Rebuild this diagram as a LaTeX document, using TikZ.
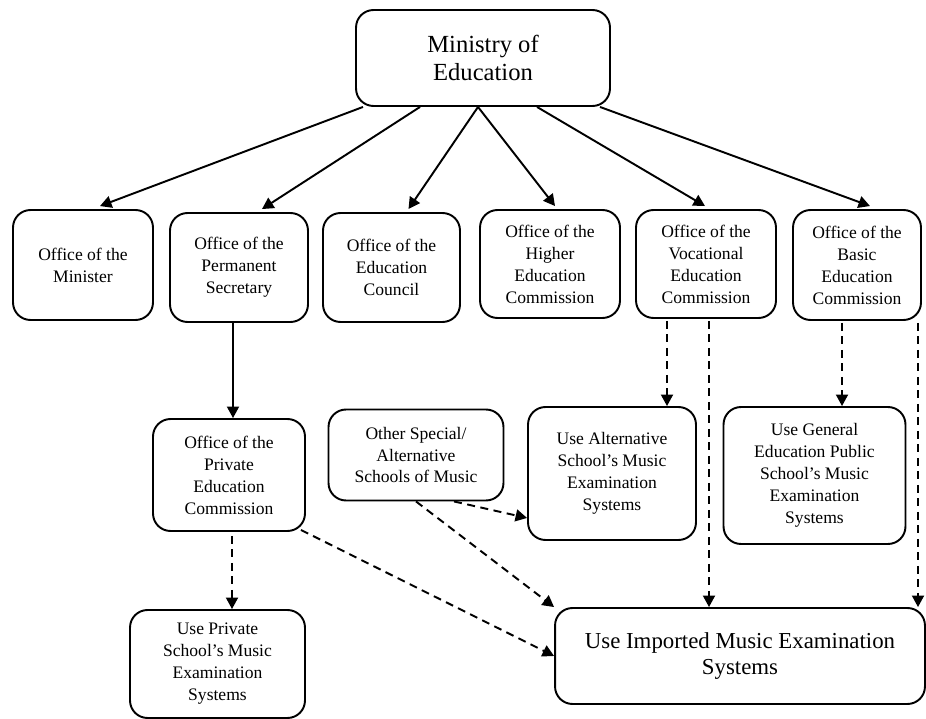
\documentclass[tikz,border=0pt]{standalone}
\usepackage{fontspec}
\setmainfont{Liberation Serif}
\usetikzlibrary{arrows.meta, positioning, calc}

\begin{document}
\begin{tikzpicture}[
            x=0.02cm, y=-0.02cm,
            box/.style={rectangle, draw=black, line width=1.1pt, fill=white, align=center, rounded corners=0.35cm, inner sep=2pt, font=\fontsize{10}{12.5}\selectfont},
            arrow/.style={-{Triangle[length=2.3mm, width=2.4mm]}, line width=1.1pt, draw=black},
            dasharrow/.style={arrow, dash pattern=on 1.6mm off 1.1mm}
        ]
        \useasboundingbox (0,0) rectangle (926,719);

        \node[box, minimum width=5.08cm, minimum height=1.92cm, font=\fontsize{14}{16}\selectfont] (ministry) at (483,58) {Ministry of\\Education};

        \node[box, minimum width=2.8cm, minimum height=2.2cm] (minister) at (83,265) {Office of the\\Minister};
        \node[box, minimum width=2.76cm, minimum height=2.18cm] (permanent) at (239,267.5) {Office of the\\Permanent\\Secretary};
        \node[box, minimum width=2.74cm, minimum height=2.18cm] (council) at (391.5,267.5) {Office of the\\Education\\Council};
        \node[box, minimum width=2.8cm, minimum height=2.16cm] (higher) at (550,264) {Office of the\\Higher\\Education\\Commission};
        \node[box, minimum width=2.8cm, minimum height=2.16cm] (vocational) at (706,264) {Office of the\\Vocational\\Education\\Commission};
        \node[box, minimum width=2.56cm, minimum height=2.2cm] (basic) at (857,265) {Office of the\\Basic\\Education\\Commission};

        \node[box, minimum width=3.04cm, minimum height=2.24cm] (privateed) at (229,475) {Office of the\\Private\\Education\\Commission};
        \node[box, minimum width=3.5cm, minimum height=1.82cm] (otherspecial) at (416,455) {Other Special/\\Alternative\\Schools of Music};
        \node[box, minimum width=3.36cm, minimum height=2.66cm] (altsys) at (612,473.5) {Use Alternative\\School's Music\\Examination\\Systems};
        \node[box, minimum width=3.64cm, minimum height=2.74cm] (generalsys) at (814.5,475.5) {Use General\\Education Public\\School's Music\\Examination\\Systems};

        \node[box, minimum width=3.5cm, minimum height=2.16cm] (privatesys) at (217.5,664) {Use Private\\School's Music\\Examination\\Systems};
        \node[box, minimum width=7.4cm, minimum height=1.92cm, font=\fontsize{13}{15}\selectfont] (imported) at (740,656) {Use Imported Music Examination\\Systems};

        \draw[arrow] ($(ministry.south)+(-120,0)$) -- ($(minister.north)+(17,-3)$);
        \draw[arrow] ($(ministry.south)+(-63,0)$) -- ($(permanent.north)+(23,-3)$);
        \draw[arrow] ($(ministry.south)+(-5,0)$) -- ($(council.north)+(17,-3)$);
        \draw[arrow] ($(ministry.south)+(-5,0)$) -- ($(higher.north)+(5,-3)$);
        \draw[arrow] ($(ministry.south)+(54,0)$) -- ($(vocational.north)+(-1,-3)$);
        \draw[arrow] ($(ministry.south)+(117,0)$) -- ($(basic.north)+(13,-3)$);

        \draw[arrow] ($(permanent.south)+(-6,0)$) coordinate (p1) -- (p1 |- privateed.north);
        \draw[dasharrow] ($(privateed.south)+(3,4)$) coordinate (p2) -- (p2 |- privatesys.north);
        \draw[dasharrow] ($(privateed.south east)+(-5,-2)$) -- (imported.west);
        \draw[dasharrow] (otherspecial.south) -- (imported.north west);
        \draw[dasharrow] ($(otherspecial.south)+(38,0)$) -- ($(altsys.south west)+(0,-23)$);

        \draw[dasharrow] ($(vocational.south)+(-39,2)$) coordinate (v1) -- (v1 |- altsys.north);
        \draw[dasharrow] ($(vocational.south)+(3,2)$) coordinate (v2) -- (v2 |- imported.north);
        \draw[dasharrow] ($(basic.south)+(-15,2)$) coordinate (b1) -- (b1 |- generalsys.north);
        \draw[dasharrow] ($(basic.south)+(61,2)$) coordinate (b2) -- (b2 |- imported.north);

        \end{tikzpicture}
\end{document}
